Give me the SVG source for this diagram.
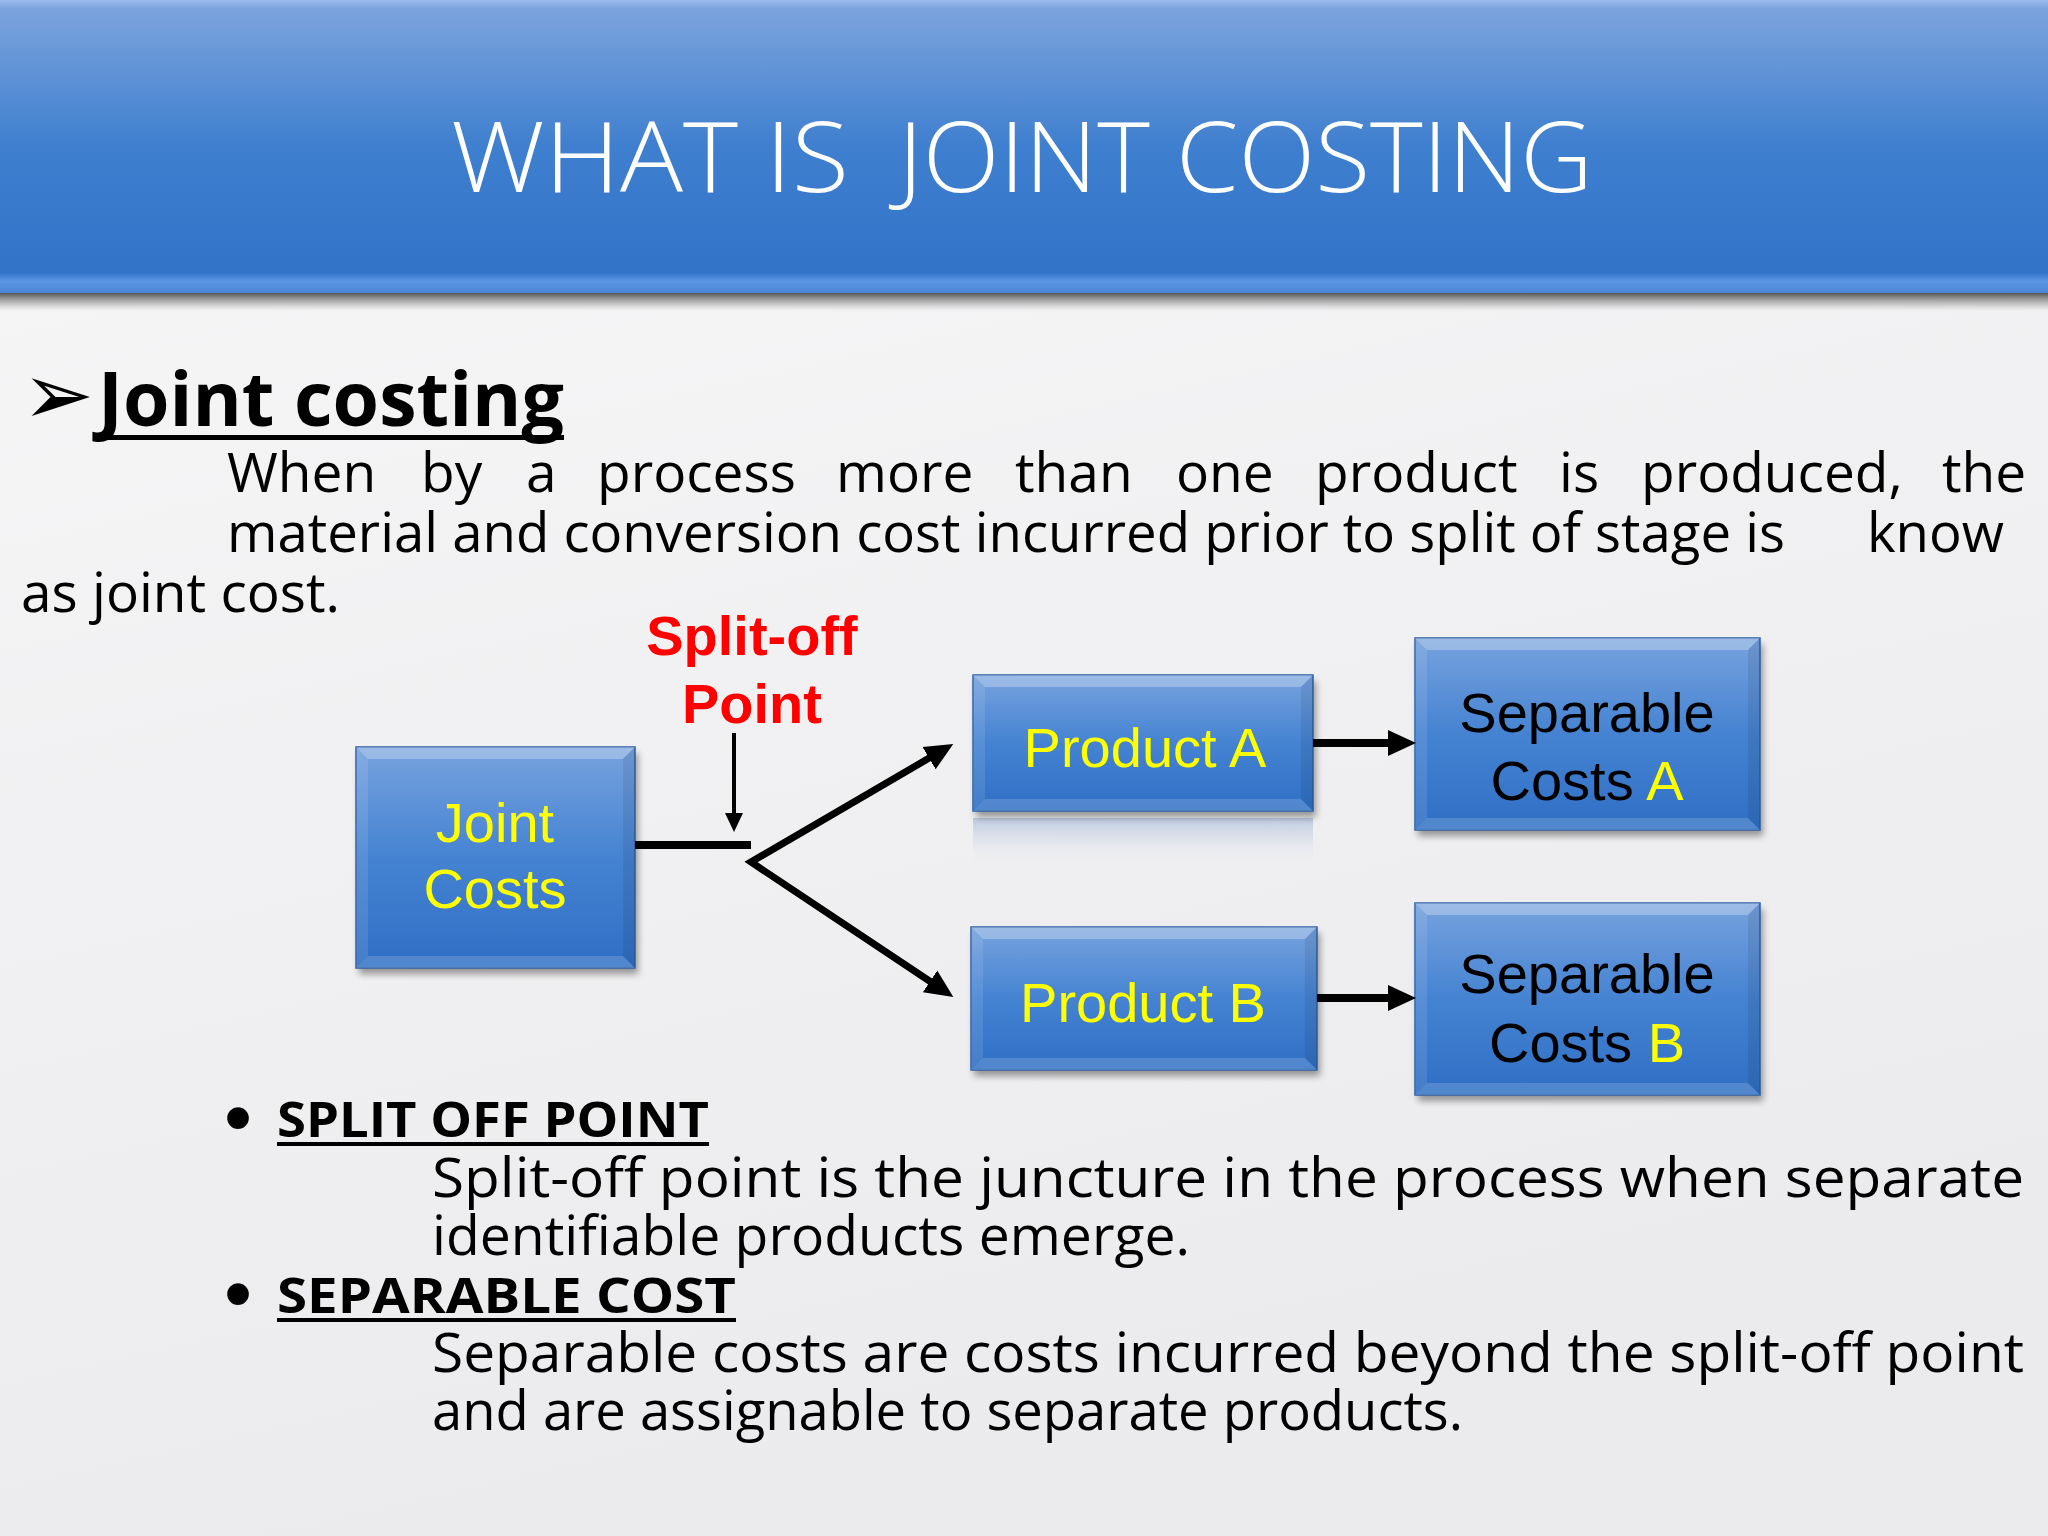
<svg xmlns="http://www.w3.org/2000/svg" width="2048" height="1536" viewBox="0 0 2048 1536">
<defs>
<linearGradient id="bg" x1="0" y1="0" x2="0.3" y2="1">
<stop offset="0" stop-color="#f7f7f8"/>
<stop offset="1" stop-color="#ebebed"/>
</linearGradient>
<linearGradient id="titleG" x1="0" y1="0" x2="0" y2="1">
<stop offset="0" stop-color="#9dbdeb"/>
<stop offset="0.03" stop-color="#7ba3dd"/>
<stop offset="0.5" stop-color="#3f7fcf"/>
<stop offset="0.93" stop-color="#3273c8"/>
<stop offset="0.96" stop-color="#5b96e4"/>
<stop offset="1" stop-color="#4a86d6"/>
</linearGradient>
<linearGradient id="titleShadow" x1="0" y1="0" x2="0" y2="1">
<stop offset="0" stop-color="#3a3a3a" stop-opacity="0.85"/>
<stop offset="1" stop-color="#888" stop-opacity="0"/>
</linearGradient>
<linearGradient id="gBox" x1="0" y1="0" x2="0" y2="1">
<stop offset="0" stop-color="#77a2de"/>
<stop offset="0.5" stop-color="#4583d2"/>
<stop offset="1" stop-color="#2f6fc4"/>
</linearGradient>
<linearGradient id="refl" x1="0" y1="0" x2="0" y2="1">
<stop offset="0" stop-color="#8aa6cf" stop-opacity="0.5"/>
<stop offset="1" stop-color="#dfe4ec" stop-opacity="0"/>
</linearGradient>
<filter id="blur" x="-10%" y="-10%" width="120%" height="130%">
<feGaussianBlur stdDeviation="3.5"/>
</filter>
<marker id="headBig" markerUnits="userSpaceOnUse" viewBox="0 -14 30 28" markerWidth="30" markerHeight="28" refX="2" refY="0" orient="auto">
<path d="M0,-13 L28,0 L0,13 z" fill="#000"/>
</marker>
<marker id="headBigR" markerUnits="userSpaceOnUse" viewBox="0 -14 30 28" markerWidth="30" markerHeight="28" refX="2" refY="0" orient="auto-start-reverse">
<path d="M0,-13 L28,0 L0,13 z" fill="#000"/>
</marker>
<marker id="headSmall" markerUnits="userSpaceOnUse" viewBox="0 -10 20 20" markerWidth="20" markerHeight="20" refX="1" refY="0" orient="auto">
<path d="M0,-9 L19,0 L0,9 z" fill="#000"/>
</marker>
<style>
.body{font-family:"Open Sans","Liberation Sans",sans-serif;font-size:55px;fill:#000;}
.bold{font-family:"Open Sans","Liberation Sans",sans-serif;font-weight:bold;fill:#000;}
.bul{font-family:"Liberation Sans",sans-serif;font-size:80px;fill:#000;text-anchor:middle;}
.box{fill:url(#gBox);stroke:#2c5fa6;stroke-width:1.5;}
.shadow{fill:#000;opacity:0.38;filter:url(#blur);}
.bvT{fill:#fff;opacity:0.28;}
.bvB{fill:#fff;opacity:0.16;}
.bvL{fill:#fff;opacity:0.1;}
.bvR{fill:#000;opacity:0.08;}
.lbl{font-family:"Liberation Sans",Arial,sans-serif;font-size:56px;text-anchor:middle;}
.y{fill:#ffff00;}
.k{fill:#000;}
.red{font-family:"Liberation Sans",Arial,sans-serif;font-size:56px;font-weight:bold;fill:#ff0000;text-anchor:middle;}
.con{fill:none;stroke:#000;}
</style>
</defs>

<rect width="2048" height="1536" fill="url(#bg)"/>

<g id="title">
<rect x="0" y="293" width="2048" height="18" fill="url(#titleShadow)"/>
<rect x="0" y="0" width="2048" height="293" fill="url(#titleG)"/>
<text x="451" y="192" font-family="'Open Sans','Liberation Sans',sans-serif" font-weight="300" font-size="97" fill="#fff" textLength="398" lengthAdjust="spacingAndGlyphs">WHAT IS</text>
<text x="898" y="192" font-family="'Open Sans','Liberation Sans',sans-serif" font-weight="300" font-size="97" fill="#fff" textLength="695" lengthAdjust="spacingAndGlyphs">JOINT COSTING</text>
</g>

<g id="intro">
<text x="22" y="424" font-family="'DejaVu Sans',sans-serif" font-size="86" fill="#000">➢</text>
<text x="98" y="426" class="bold" font-size="76" textLength="466" lengthAdjust="spacingAndGlyphs">Joint costing</text>
<rect x="98" y="435" width="466" height="5" fill="#000"/>
<text class="body" y="492"><tspan x="227">When</tspan><tspan x="421">by</tspan><tspan x="526">a</tspan><tspan x="597">process</tspan><tspan x="836">more</tspan><tspan x="1015">than</tspan><tspan x="1176">one</tspan><tspan x="1315">product</tspan><tspan x="1559">is</tspan><tspan x="1641">produced,</tspan><tspan x="1942">the</tspan></text>
<text class="body" x="227" y="552" textLength="1558" lengthAdjust="spacingAndGlyphs">material and conversion cost incurred prior to split of stage is</text>
<text class="body" x="1867" y="552" textLength="137" lengthAdjust="spacingAndGlyphs">know</text>
<text class="body" x="21" y="612" textLength="319" lengthAdjust="spacingAndGlyphs">as joint cost.</text>
</g>

<g id="split-label">
<text class="red" x="752" y="655">Split-off</text>
<text class="red" x="752" y="723">Point</text>
</g>

<g id="joint-costs">
<rect class="shadow" x="359" y="753" width="279" height="221"/>
<rect class="box" x="356" y="747" width="279" height="221"/>
<polygon class="bvT" points="356,747 635,747 623,759 368,759"/>
<polygon class="bvB" points="356,968 635,968 623,956 368,956"/>
<polygon class="bvL" points="356,747 368,759 368,956 356,968"/>
<polygon class="bvR" points="635,747 623,759 623,956 635,968"/>
<text class="lbl y" x="495" y="842">Joint</text>
<text class="lbl y" x="495" y="908">Costs</text>
</g>

<g id="product-a">
<rect x="973" y="818" width="340" height="46" fill="url(#refl)"/>
<rect class="shadow" x="976" y="681" width="340" height="136"/>
<rect class="box" x="973" y="675" width="340" height="136"/>
<polygon class="bvT" points="973,675 1313,675 1301,687 985,687"/>
<polygon class="bvB" points="973,811 1313,811 1301,799 985,799"/>
<polygon class="bvL" points="973,675 985,687 985,799 973,811"/>
<polygon class="bvR" points="1313,675 1301,687 1301,799 1313,811"/>
<text class="lbl y" x="1145" y="767">Product A</text>
</g>

<g id="separable-a">
<rect class="shadow" x="1418" y="644" width="345" height="192"/>
<rect class="box" x="1415" y="638" width="345" height="192"/>
<polygon class="bvT" points="1415,638 1760,638 1748,650 1427,650"/>
<polygon class="bvB" points="1415,830 1760,830 1748,818 1427,818"/>
<polygon class="bvL" points="1415,638 1427,650 1427,818 1415,830"/>
<polygon class="bvR" points="1760,638 1748,650 1748,818 1760,830"/>
<text class="lbl k" x="1587" y="732">Separable</text>
<text class="lbl k" x="1587" y="800">Costs <tspan class="y">A</tspan></text>
</g>

<g id="product-b">
<rect class="shadow" x="974" y="933" width="346" height="143"/>
<rect class="box" x="971" y="927" width="346" height="143"/>
<polygon class="bvT" points="971,927 1317,927 1305,939 983,939"/>
<polygon class="bvB" points="971,1070 1317,1070 1305,1058 983,1058"/>
<polygon class="bvL" points="971,927 983,939 983,1058 971,1070"/>
<polygon class="bvR" points="1317,927 1305,939 1305,1058 1317,1070"/>
<text class="lbl y" x="1143" y="1022">Product B</text>
</g>

<g id="separable-b">
<rect class="shadow" x="1418" y="909" width="345" height="192"/>
<rect class="box" x="1415" y="903" width="345" height="192"/>
<polygon class="bvT" points="1415,903 1760,903 1748,915 1427,915"/>
<polygon class="bvB" points="1415,1095 1760,1095 1748,1083 1427,1083"/>
<polygon class="bvL" points="1415,903 1427,915 1427,1083 1415,1095"/>
<polygon class="bvR" points="1760,903 1748,915 1748,1083 1760,1095"/>
<text class="lbl k" x="1587" y="993">Separable</text>
<text class="lbl k" x="1587" y="1062">Costs <tspan class="y">B</tspan></text>
</g>

<g id="connectors">
<line class="con" x1="635" y1="845" x2="751" y2="845" stroke-width="8"/>
<line class="con" x1="734" y1="733" x2="734" y2="814" stroke-width="4" marker-end="url(#headSmall)"/>
<path class="con" d="M930.8,757.1 L751,862 L931.7,982.5" stroke-width="7" stroke-linejoin="miter" marker-start="url(#headBigR)" marker-end="url(#headBig)"/>
<line class="con" x1="1313" y1="743" x2="1390" y2="743" stroke-width="8" marker-end="url(#headBig)"/>
<line class="con" x1="1317" y1="998" x2="1390" y2="998" stroke-width="8" marker-end="url(#headBig)"/>
</g>

<g id="definitions">
<text x="238" y="1145" class="bul">•</text>
<text x="277" y="1137" class="bold" font-size="49" textLength="432" lengthAdjust="spacingAndGlyphs">SPLIT OFF POINT</text>
<rect x="277" y="1142" width="432" height="4" fill="#000"/>
<text class="body" x="432" y="1197" textLength="1592" lengthAdjust="spacingAndGlyphs">Split-off point is the juncture in the process when separate</text>
<text class="body" x="432" y="1255" textLength="758" lengthAdjust="spacingAndGlyphs">identifiable products emerge.</text>
<text x="238" y="1321" class="bul">•</text>
<text x="277" y="1313" class="bold" font-size="49" textLength="459" lengthAdjust="spacingAndGlyphs">SEPARABLE COST</text>
<rect x="277" y="1318" width="459" height="4" fill="#000"/>
<text class="body" x="432" y="1372" textLength="1592" lengthAdjust="spacingAndGlyphs">Separable costs are costs incurred beyond the split-off point</text>
<text class="body" x="432" y="1430" textLength="1031" lengthAdjust="spacingAndGlyphs">and are assignable to separate products.</text>
</g>
</svg>
